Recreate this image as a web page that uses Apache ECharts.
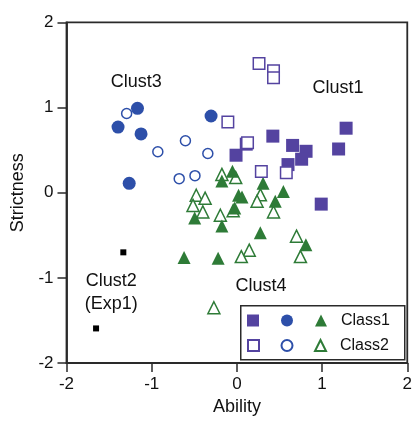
<!DOCTYPE html>
<html>
<head>
<meta charset="utf-8">
<script src="https://cdn.jsdelivr.net/npm/echarts@6/dist/echarts.min.js"></script>
<style>
html,body{margin:0;padding:0;background:#fff;}
#chart{width:415px;height:421px;}
</style>
</head>
<body>
<div id="chart"></div>
<script>
// ---- data (Ability, Strictness) ----
const class1Squares = [[-0.01,0.44],[0.11,0.57],[0.422,0.664],[0.654,0.555],[0.812,0.486],[0.76,0.393],[0.6,0.33],[1.194,0.513],[1.282,0.757],[0.99,-0.134]];
const class2Squares = [[-0.106,0.83],[0.26,1.515],[0.43,1.43],[0.43,1.35],[0.125,0.585],[0.287,0.25],[0.58,0.235]];
const class1Circles = [[-1.167,0.99],[-1.395,0.77],[-1.125,0.69],[-0.303,0.90],[-1.264,0.11]];
const class2Circles = [[-1.294,0.93],[-0.928,0.48],[-0.604,0.61],[-0.341,0.46],[-0.677,0.165],[-0.492,0.20]];
const class1Triangles = [[-0.052,0.253],[-0.176,0.137],[0.307,0.11],[0.546,0.014],[0.02,-0.03],[0.06,-0.05],[0.45,-0.10],[-0.025,-0.18],[-0.495,-0.296],[-0.176,-0.39],[0.275,-0.47],[0.81,-0.61],[-0.22,-0.77],[-0.62,-0.76]];
const class2Triangles = [[-0.176,0.215],[-0.014,0.177],[-0.477,-0.03],[-0.373,-0.064],[0.276,-0.025],[0.237,-0.10],[-0.515,-0.149],[-0.40,-0.226],[-0.194,-0.265],[-0.044,-0.211],[0.43,-0.226],[0.70,-0.51],[0.145,-0.675],[0.052,-0.75],[0.746,-0.75],[-0.27,-1.35]];
const exp1Points = [[-1.333,-0.70],[-1.653,-1.593]];
const clusterNames = ['Clust3','Clust1','Clust2\n(Exp1)','Clust4'];
const clusterAnchors = [[-1.18,1.30],[1.186,1.225],[-1.476,-1.17],[0.284,-1.098]];
const xTicks = [-2,-1,0,1,2];
const yTicks = [-2,-1,0,1,2];

const FONT = '"Liberation Sans", Arial, Helvetica, sans-serif';
const PURPLE = '#5443a0', BLUE = '#2d4fa9', GREEN = '#2e7b37', INK = '#111111';

const chart = echarts.init(document.getElementById('chart'), null, {renderer:'canvas'});

function filled(name, data, symbol, color, size){
  return {name, type:'scatter', data, symbol, symbolSize:size,
    itemStyle:{color, opacity:1}, emphasis:{disabled:true}, animation:false};
}
function hollow(name, data, symbol, color, size){
  return {name, type:'scatter', data, symbol, symbolSize:size,
    itemStyle:{color:'#fff', borderColor:color, borderWidth:1.5, opacity:1}, emphasis:{disabled:true}, animation:false};
}

const labelData = clusterAnchors.map((p,i)=>({value:p, name:clusterNames[i]}));

const option = {
  backgroundColor:'#fff',
  textStyle:{fontFamily:FONT},
  grid:{left:66.5, right:2.7, top:22.3, bottom:54.3, show:true, borderColor:'#2a2a2a', borderWidth:1.8, backgroundColor:'transparent'},
  xAxis:{type:'value', min:xTicks[0], max:xTicks[xTicks.length-1], interval:1,
    name:'Ability', nameLocation:'middle', nameGap:30,
    nameTextStyle:{fontSize:18, color:INK, fontFamily:FONT},
    axisLine:{show:true, onZero:false, lineStyle:{color:'#2a2a2a', width:1.8}},
    axisTick:{show:true, inside:false, length:9, lineStyle:{color:'#2a2a2a', width:1.5}},
    axisLabel:{fontSize:17, color:INK, margin:13, fontFamily:FONT},
    splitLine:{show:false}},
  yAxis:{type:'value', min:yTicks[0], max:yTicks[yTicks.length-1], interval:1,
    name:'Strictness', nameLocation:'middle', nameGap:33,
    nameTextStyle:{fontSize:18, color:INK, fontFamily:FONT},
    axisLine:{show:true, onZero:false, lineStyle:{color:'#2a2a2a', width:1.8}},
    axisTick:{show:true, inside:false, length:9, lineStyle:{color:'#2a2a2a', width:1.5}},
    axisLabel:{fontSize:17, color:INK, margin:13, fontFamily:FONT},
    splitLine:{show:false}},
  legend:[
    {data:['c1sq','c1ci','Class1'], left:247, top:312.5, padding:0, orient:'horizontal',
     itemWidth:12, itemHeight:12, itemGap:22, selectedMode:false,
     formatter:n=> n.startsWith('Class') ? '  '+n : '',
     textStyle:{fontSize:16, color:INK, fontFamily:FONT}},
    {data:['c2sq','c2ci','Class2'], left:247, top:337.5, padding:0, orient:'horizontal',
     itemWidth:11, itemHeight:11, itemGap:20.5, selectedMode:false,
     formatter:n=> n.startsWith('Class') ? '  '+n : '',
     textStyle:{fontSize:16, color:INK, fontFamily:FONT}}
  ],
  graphic:[{type:'rect', left:240, top:305, shape:{width:164, height:54},
    style:{fill:'transparent', stroke:'#2a2a2a', lineWidth:1.5}, z:1}],
  series:[
    hollow('Class2', class2Triangles, 'triangle', GREEN, 12),
    filled('Class1', class1Triangles, 'triangle', GREEN, 13),
    filled('c1ci', class1Circles, 'circle', BLUE, 13),
    hollow('c2ci', class2Circles, 'circle', BLUE, 10),
    filled('c1sq', class1Squares, 'rect', PURPLE, 13),
    hollow('c2sq', class2Squares, 'rect', PURPLE, 11.5),
    filled('Exp1', exp1Points, 'rect', '#000', 6),
    {name:'labels', type:'scatter', data:labelData, symbolSize:0, silent:true, animation:false,
     itemStyle:{opacity:1},
     label:{show:true, position:'inside', formatter:p=>p.name, fontSize:18, color:INK, opacity:1,
       fontFamily:FONT, align:'center', verticalAlign:'middle', lineHeight:23}}
  ]
};
chart.setOption(option);
</script>
</body>
</html>
